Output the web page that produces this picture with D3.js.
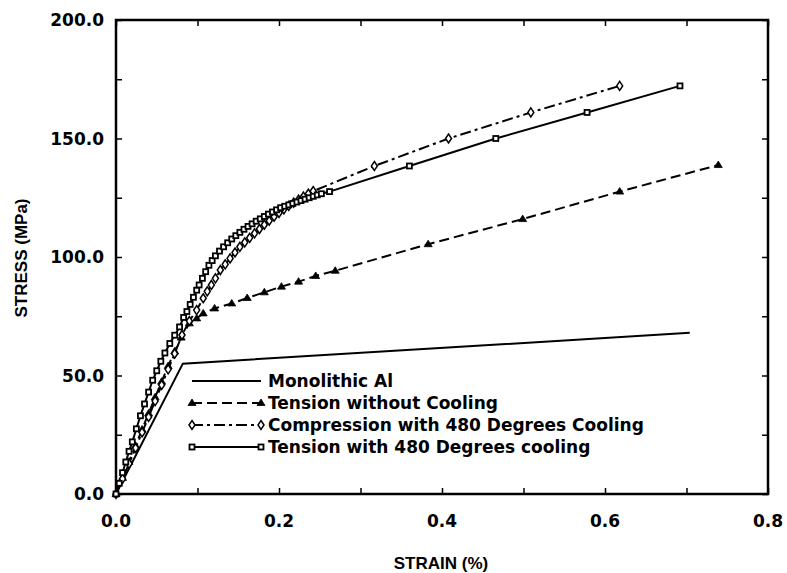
<!DOCTYPE html>
<html>
<head>
<meta charset="utf-8">
<script src="https://cdn.jsdelivr.net/npm/d3@7"></script>
<style>
  html, body { margin: 0; padding: 0; background: #fff; }
  svg { display: block; }
</style>
</head>
<body>
<svg id="chart" width="787" height="573"></svg>
<script>
// ---------------- DATA ----------------
const xTicks = [0.0, 0.2, 0.4, 0.6, 0.8];
const yTicks = [0, 50, 100, 150, 200];

// Monolithic Al (no markers)
const monoStrain = [0.000, 0.082, 0.704];
const monoStress = [0.0, 55.0, 68.0];

// Tension without Cooling (triangles, dashed)
const tensStrain = [0.000, 0.008, 0.016, 0.024, 0.032, 0.040, 0.048, 0.056, 0.064, 0.072, 0.080, 0.090, 0.099, 0.107, 0.121, 0.142, 0.161, 0.182, 0.203, 0.224, 0.245, 0.269, 0.383, 0.499, 0.618, 0.739];
const tensStress = [0.0, 6.8, 13.6, 20.4, 27.2, 34.0, 40.8, 47.4, 54.0, 60.2, 66.0, 72.0, 74.1, 76.2, 78.3, 80.4, 82.7, 85.1, 87.5, 89.6, 92.0, 94.2, 105.4, 116.0, 127.6, 138.8];

// Compression with 480 Degrees Cooling (open diamonds, dash-dot)
const compStrain = [0.000, 0.008, 0.016, 0.024, 0.032, 0.040, 0.048, 0.056, 0.064, 0.072, 0.081, 0.090, 0.099, 0.107, 0.112, 0.117, 0.122, 0.128, 0.134, 0.140, 0.146, 0.152, 0.158, 0.164, 0.170, 0.176, 0.182, 0.188, 0.194, 0.200, 0.206, 0.212, 0.218, 0.224, 0.230, 0.236, 0.242, 0.317, 0.408, 0.509, 0.618];
const compStress = [0.0, 6.4, 12.8, 19.4, 26.0, 32.5, 39.2, 46.0, 52.6, 59.2, 67.1, 73.0, 77.6, 82.6, 85.5, 88.2, 91.0, 94.5, 96.9, 99.4, 101.9, 104.3, 106.2, 108.1, 110.0, 111.8, 113.6, 115.3, 117.0, 118.6, 120.1, 121.6, 122.9, 124.2, 125.5, 126.7, 127.8, 138.4, 150.0, 161.0, 172.2];

// Tension with 480 Degrees cooling (open squares, solid)
const coolStrain = [0.000, 0.004, 0.008, 0.012, 0.016, 0.020, 0.025, 0.030, 0.035, 0.040, 0.045, 0.050, 0.055, 0.060, 0.066, 0.072, 0.078, 0.083, 0.087, 0.091, 0.095, 0.099, 0.102, 0.106, 0.110, 0.114, 0.118, 0.122, 0.127, 0.132, 0.137, 0.142, 0.147, 0.152, 0.157, 0.162, 0.167, 0.172, 0.177, 0.182, 0.187, 0.192, 0.197, 0.202, 0.207, 0.212, 0.217, 0.222, 0.227, 0.232, 0.237, 0.242, 0.247, 0.252, 0.262, 0.360, 0.466, 0.578, 0.692];
const coolStress = [0.0, 4.5, 9.0, 13.5, 18.0, 22.0, 27.5, 33.0, 38.0, 43.0, 48.0, 52.0, 56.0, 59.5, 63.5, 67.0, 70.5, 74.5, 77.0, 80.0, 83.0, 86.0, 88.2, 91.0, 93.8, 96.5, 98.5, 100.5, 102.5, 104.3, 106.0, 107.6, 109.0, 110.4, 111.7, 112.9, 114.0, 115.1, 116.1, 117.1, 118.1, 119.0, 119.9, 120.8, 121.4, 122.0, 122.6, 123.2, 123.8, 124.4, 125.0, 125.6, 126.2, 126.7, 127.6, 138.4, 150.0, 161.0, 172.2];

const legendLabels = ["Monolithic Al", "Tension without Cooling", "Compression with 480 Degrees Cooling", "Tension with 480 Degrees cooling"];

// ---------------- CHART ----------------
const svg = d3.select("#chart");
const x = d3.scaleLinear().domain([0, 0.8]).range([116, 768]);
const y = d3.scaleLinear().domain([0, 200]).range([494, 20]);

const font = "'DejaVu Sans', 'Liberation Sans', sans-serif";
const titleFont = "'Liberation Sans', Arial, sans-serif";

// frame
svg.append("rect")
  .attr("x", x(0)).attr("y", y(200))
  .attr("width", x(0.8) - x(0)).attr("height", y(0) - y(200))
  .attr("fill", "none").attr("stroke", "#000").attr("stroke-width", 2.5);

// inward ticks (all four sides)
const tickLen = 6;
const xMinor = d3.range(0, 9).map(i => i * 0.1);
const yMinor = d3.range(0, 9).map(i => i * 25);
const axisBottom = d3.axisBottom(x).tickValues(xMinor).tickSizeInner(-tickLen).tickSizeOuter(0).tickFormat("");
const axisTop = d3.axisTop(x).tickValues(xMinor).tickSizeInner(-tickLen).tickSizeOuter(0).tickFormat("");
const axisLeft = d3.axisLeft(y).tickValues(yMinor).tickSizeInner(-tickLen).tickSizeOuter(0).tickFormat("");
const axisRight = d3.axisRight(y).tickValues(yMinor).tickSizeInner(-tickLen).tickSizeOuter(0).tickFormat("");
[[axisBottom, `translate(0,${y(0)})`], [axisTop, `translate(0,${y(200)})`],
 [axisLeft, `translate(${x(0)},0)`], [axisRight, `translate(${x(0.8)},0)`]].forEach(([ax, tr]) => {
  const g = svg.append("g").attr("transform", tr).call(ax);
  g.select(".domain").remove();
  g.selectAll("line").attr("stroke", "#000").attr("stroke-width", 1.5);
});

// tick labels
svg.append("g").selectAll("text").data(yTicks).join("text")
  .attr("x", 104).attr("y", d => y(d)).attr("dy", "0.36em")
  .attr("text-anchor", "end")
  .attr("font-family", font).attr("font-weight", "bold").attr("font-size", 17)
  .text(d => d.toFixed(1));
svg.append("g").selectAll("text").data(xTicks).join("text")
  .attr("x", d => x(d)).attr("y", 527)
  .attr("text-anchor", "middle")
  .attr("font-family", font).attr("font-weight", "bold").attr("font-size", 17)
  .text(d => d.toFixed(1));

// axis titles
svg.append("text").attr("x", 441).attr("y", 569).attr("text-anchor", "middle")
  .attr("font-family", titleFont).attr("font-weight", "bold").attr("font-size", 17)
  .text("STRAIN (%)");
svg.append("text").attr("transform", `translate(27,${258}) rotate(-90)`).attr("text-anchor", "middle")
  .attr("font-family", titleFont).attr("font-weight", "bold").attr("font-size", 17)
  .text("STRESS (MPa)");

// lines
const line = d3.line().x(d => x(d[0])).y(d => y(d[1]));
const zip = (a, b) => a.map((v, i) => [v, b[i]]);
const series = [
  { pts: zip(monoStrain, monoStress), dash: null, marker: null },
  { pts: zip(tensStrain, tensStress), dash: "10,5", marker: "tri" },
  { pts: zip(compStrain, compStress), dash: "11,4,3,4", marker: "dia" },
  { pts: zip(coolStrain, coolStress), dash: null, marker: "sq" }
];

function drawMarker(g, type, cx, cy) {
  if (type === "tri") {
    g.append("path").attr("d", `M${cx},${cy - 4}L${cx + 4},${cy + 2.5}L${cx - 4},${cy + 2.5}Z`)
      .attr("fill", "#000").attr("stroke", "#000").attr("stroke-width", 0.8);
  } else if (type === "dia") {
    g.append("path").attr("d", `M${cx},${cy - 4.5}L${cx + 3},${cy}L${cx},${cy + 4.5}L${cx - 3},${cy}Z`)
      .attr("fill", "#fff").attr("stroke", "#000").attr("stroke-width", 1.5);
  } else if (type === "sq") {
    g.append("rect").attr("x", cx - 2.5).attr("y", cy - 2.5).attr("width", 5).attr("height", 5)
      .attr("fill", "#fff").attr("stroke", "#000").attr("stroke-width", 1.8);
  }
}

series.forEach(s => {
  svg.append("path").datum(s.pts).attr("d", line)
    .attr("fill", "none").attr("stroke", "#000").attr("stroke-width", 2)
    .attr("stroke-dasharray", s.dash);
});
// markers drawn after lines
[series[1], series[2], series[3]].forEach(s => {
  const g = svg.append("g");
  s.pts.forEach(p => drawMarker(g, s.marker, x(p[0]), y(p[1])));
});

// legend
const legY = [381, 403, 425, 447];
const lx0 = 192, lx1 = 261;
series.forEach((s, i) => {
  const g = svg.append("g");
  g.append("line").attr("x1", lx0).attr("x2", lx1).attr("y1", legY[i]).attr("y2", legY[i])
    .attr("stroke", "#000").attr("stroke-width", 2).attr("stroke-dasharray", s.dash);
  if (s.marker) { drawMarker(g, s.marker, lx0, legY[i]); drawMarker(g, s.marker, lx1, legY[i]); }
  g.append("text").attr("x", 268).attr("y", legY[i]).attr("dy", "0.36em")
    .attr("font-family", font).attr("font-weight", "bold").attr("font-size", 17)
    .text(legendLabels[i]);
});
</script>
</body>
</html>
